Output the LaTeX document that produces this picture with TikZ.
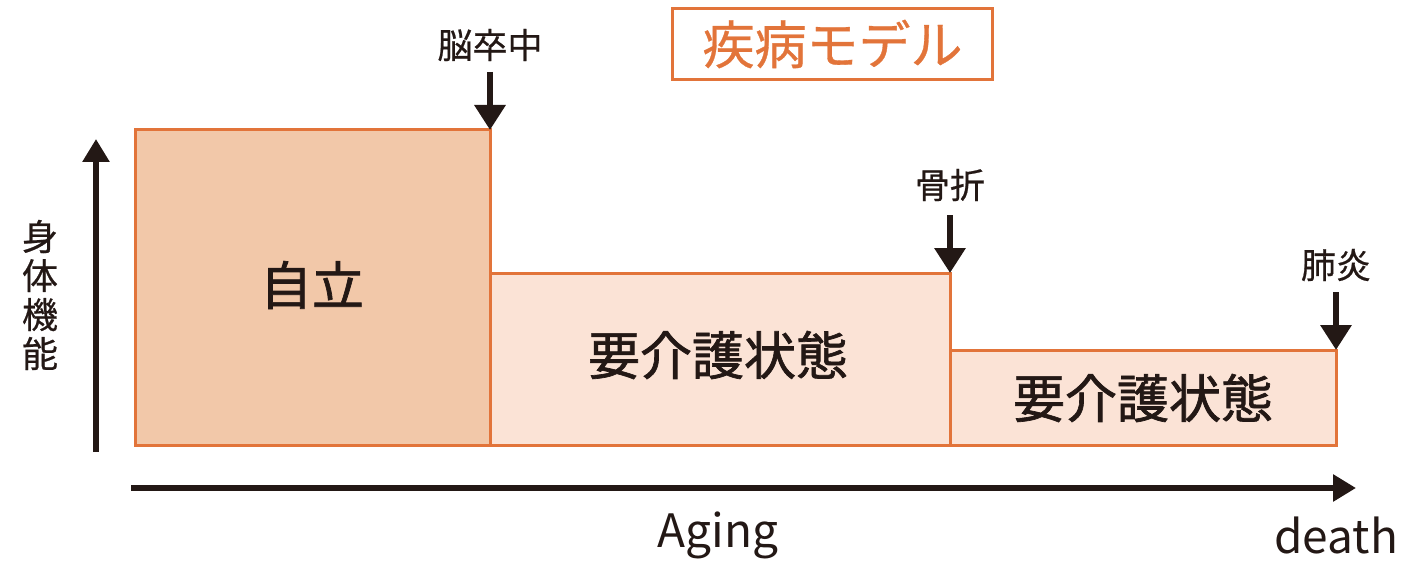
\documentclass[tikz,border=0pt]{standalone}
\usepackage{fontspec}
\setmainfont{Noto Sans CJK JP}
\newfontfamily\jpbold[FakeBold=1.3]{Noto Sans CJK JP}
\newfontfamily\jpmed[FakeBold=0.6]{Noto Sans CJK JP}
\usetikzlibrary{arrows.meta}
\definecolor{edgeor}{HTML}{E2743A}
\definecolor{fillA}{HTML}{F2C8A9}
\definecolor{fillB}{HTML}{FBE3D6}
\definecolor{ink}{HTML}{231815}
\begin{document}
\begin{tikzpicture}[x=1pt,y=-1pt,
  stage/.style={draw=edgeor,line width=3pt,anchor=north west,inner sep=0pt,outer sep=0pt},
  axis/.style={line width=6pt,draw=ink,-{Triangle[length=23pt,width=26pt]}},
  event/.style={line width=6.5pt,draw=ink,-{Triangle[length=25pt,width=30pt]}},
  evlabel/.style={text=ink,font=\jpmed\fontsize{35}{36}\selectfont,inner sep=0pt},
  big/.style={text=ink,font=\jpbold\fontsize{52}{54}\selectfont,inner sep=0pt}]
\useasboundingbox (0,0) rectangle (1404,564);
% stages
\node[stage,fill=fillA,minimum width=355pt,minimum height=315pt] (b1) at (135,130) {};
\node[stage,fill=fillB,minimum width=460pt,minimum height=172pt] (b2) at (490,273) {};
\node[stage,fill=fillB,minimum width=386pt,minimum height=95pt] (b3) at (950,350) {};
\node[big] (t1) at (312,285) {自立};
\node[big] (t2) at (718,355) {要介護状態};
\node[big] (t3) at (1143,398) {要介護状態};
% axes
\coordinate (yo) at (96,452);
\coordinate (yt) at (96,139);
\draw[axis] (yo) -- (yt);
\coordinate (xo) at (131,488);
\coordinate (xt) at (1356,488);
\draw[axis] (xo) -- (xt);
\node[text=ink,font=\jpmed\fontsize{36}{39}\selectfont,align=center,inner sep=0pt] (ylab) at (40,295) {身\\体\\機\\能};
\node[text=ink,font=\fontsize{46}{48}\selectfont,inner sep=0pt] (aging) at (718,535) {Aging};
\node[text=ink,font=\fontsize{46}{48}\selectfont,inner sep=0pt] (death) at (1336,535) {death};
% events
\node[evlabel] (e1) at (490,45) {脳卒中};
\coordinate (e1s) at (490,72);
\draw[event] (e1s) -- (b1.north east);
\node[evlabel] (e2) at (950,185) {骨折};
\coordinate (e2s) at (950,215);
\draw[event] (e2s) -- (b2.north east);
\node[evlabel] (e3) at (1336,265) {肺炎};
\coordinate (e3s) at (1336,292);
\draw[event] (e3s) -- (b3.north east);
% title
\node[draw=edgeor,line width=3pt,text=edgeor,font=\jpmed\fontsize{52}{54}\selectfont,minimum width=320pt,minimum height=71pt,inner sep=0pt] (title) at (832.5,44) {疾病モデル};
\end{tikzpicture}
\end{document}
